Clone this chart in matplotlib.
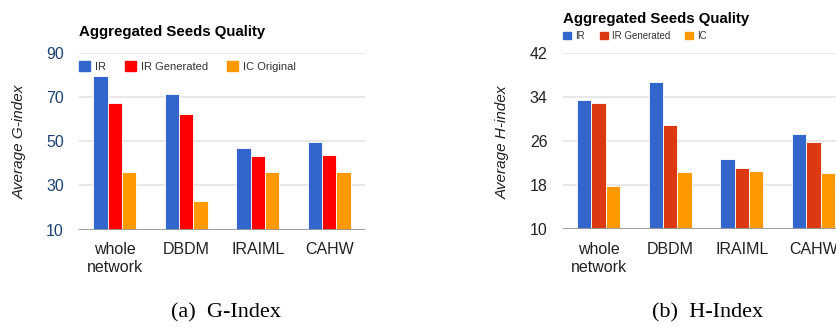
import numpy as np
import matplotlib
matplotlib.use("Agg")
import matplotlib.pyplot as plt

plt.rcParams['font.family'] = ['Liberation Sans', 'DejaVu Sans']

categories = ['whole\nnetwork', 'DBDM', 'IRAIML', 'CAHW']

# (a) G-index
g_series = ['IR', 'IR Generated', 'IC Original']
g_ir = [79.5, 71.6, 46.9, 49.9]
g_ir_gen = [67.5, 62.4, 43.4, 43.7]
g_ic = [36.0, 23.0, 36.0, 36.0]
g_ticks = [10, 30, 50, 70, 90]

# (b) H-index
h_series = ['IR', 'IR Generated', 'IC']
h_ir = [33.5, 36.8, 22.7, 27.3]
h_ir_gen = [33.0, 28.9, 21.2, 25.9]
h_ic = [17.9, 20.5, 20.6, 20.2]
h_ticks = [10, 18, 26, 34, 42]

W, H = 837, 327
fig = plt.figure(figsize=(W / 100, H / 100), dpi=100)


def px(x0, y_top, w, h):
    # pixel box (from top-left) -> figure fraction
    return [x0 / W, 1 - (y_top + h) / H, w / W, h / H]


def draw_panel(ax, values, colors, ticks, tick_color):
    x = np.arange(len(categories))
    bw = 0.2
    for i, (vals, c) in enumerate(zip(values, colors)):
        ax.bar(x + (i - 1) * bw, np.array(vals) - ticks[0], bw, bottom=ticks[0],
               color=c, edgecolor='white', linewidth=0.6, zorder=3)
    ax.set_xlim(-0.5, len(categories) - 0.5)
    ax.set_ylim(ticks[0], ticks[-1])
    ax.set_yticks(ticks)
    ax.set_xticks(x)
    ax.set_xticklabels(categories, fontsize=11.5, color='#222222', linespacing=1.25)
    ax.tick_params(axis='y', labelsize=11.5, labelcolor=tick_color, length=0, pad=11)
    ax.tick_params(axis='x', length=0, pad=9)
    for s in ax.spines.values():
        s.set_visible(False)
    ax.grid(axis='y', color='#e4e4e4', linewidth=1.2, zorder=0)
    ax.axhline(ticks[0], color='#9a9a9a', linewidth=1.3, zorder=4)
    ax.set_axisbelow(True)


# left panel
ax1 = fig.add_axes(px(79, 53.3, 286, 176.2))
draw_panel(ax1, [g_ir, g_ir_gen, g_ic], ['#3366cc', '#ff0000', '#ff9900'], g_ticks, '#1c4274')
fig.text(79 / W, 1 - 32 / H, 'Aggregated Seeds Quality', fontsize=10.8, fontweight='bold',
         va='center', ha='left')
fig.text(20 / W, 1 - 142 / H, 'Average G-index', fontsize=11, style='italic', color='#222222',
         rotation=90, va='center', ha='center')
h1 = [plt.Rectangle((0, 0), 1, 1, color=c) for c in ['#3366cc', '#ff0000', '#ff9900']]
fig.legend(h1, g_series, loc='center left', bbox_to_anchor=(79 / W, 1 - 66.7 / H), ncol=3,
           frameon=False, fontsize=8.0, handlelength=1.0, handleheight=1.0,
           handletextpad=0.45, columnspacing=1.7, borderpad=0, borderaxespad=0,
           labelcolor='#333333')

# right panel
ax2 = fig.add_axes(px(562.7, 53.3, 286.8, 176))
draw_panel(ax2, [h_ir, h_ir_gen, h_ic], ['#3366cc', '#dc3912', '#ff9900'], h_ticks, '#222222')
fig.text(563 / W, 1 - 19 / H, 'Aggregated Seeds Quality', fontsize=10.8, fontweight='bold',
         va='center', ha='left')
fig.text(503 / W, 1 - 142 / H, 'Average H-index', fontsize=11, style='italic', color='#222222',
         rotation=90, va='center', ha='center')
h2 = [plt.Rectangle((0, 0), 1, 1, color=c) for c in ['#3366cc', '#dc3912', '#ff9900']]
fig.legend(h2, h_series, loc='center left', bbox_to_anchor=(563 / W, 1 - 36 / H), ncol=3,
           frameon=False, fontsize=7, handlelength=0.82, handleheight=0.82,
           handletextpad=0.45, columnspacing=1.5, borderpad=0, borderaxespad=0,
           labelcolor='#333333')

# captions
fig.text(226 / W, 1 - 313 / H, '(a)  G-Index', fontsize=16, family='Liberation Serif',
         ha='center', va='center')
fig.text(708 / W, 1 - 313 / H, '(b)  H-Index', fontsize=16, family='Liberation Serif',
         ha='center', va='center')

fig.savefig('out.png', dpi=100)
